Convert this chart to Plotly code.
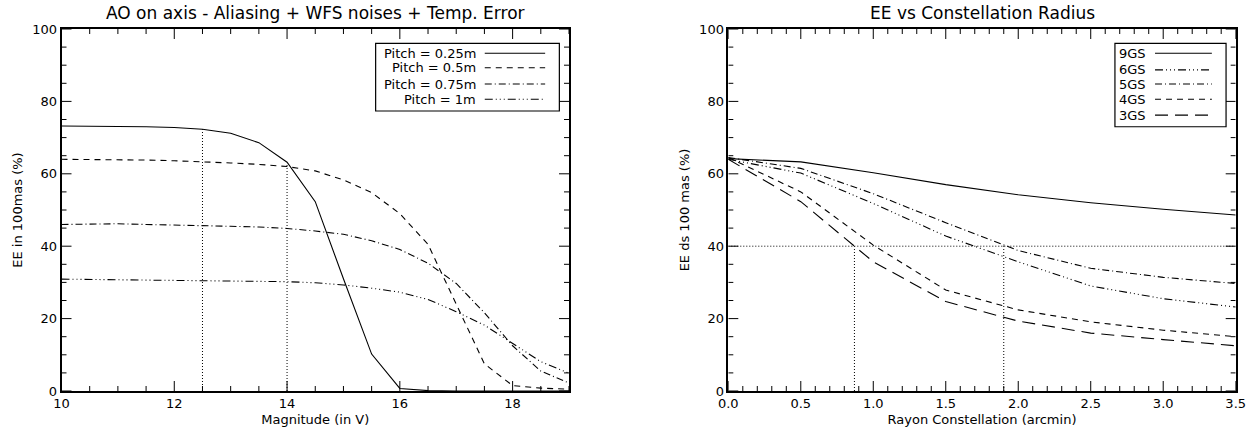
import plotly.graph_objects as go
from plotly.subplots import make_subplots

# Left panel: EE vs guide star magnitude for each pitch
MAGNITUDE = [10, 10.5, 11, 11.5, 12, 12.5, 13, 13.5, 14, 14.5,
             15, 15.5, 16, 16.5, 17, 17.5, 18, 18.5, 19]
PITCH_025 = [73.2, 73.2, 73.1, 73.0, 72.8, 72.3, 71.2, 68.6, 63.2, 52.3,
             31.0, 10.2, 0.7, 0.1, 0.0, 0.0, 0.0, 0.0, 0.0]
PITCH_05 = [64.0, 64.0, 63.9, 63.8, 63.6, 63.4, 63.0, 62.6, 62.0, 60.8,
            58.3, 54.8, 49.0, 40.5, 24.0, 7.5, 1.5, 0.8, 0.5]
PITCH_075 = [46.0, 46.1, 46.2, 46.0, 45.9, 45.7, 45.5, 45.3, 44.9, 44.2,
             43.3, 41.5, 39.1, 35.3, 29.7, 21.6, 12.5, 5.5, 2.2]
PITCH_1 = [30.9, 30.8, 30.7, 30.7, 30.7, 30.6, 30.5, 30.4, 30.2, 29.9,
           29.3, 28.4, 27.3, 25.3, 21.9, 18.2, 13.1, 8.1, 4.9]
LEFT_LABELS = ["Pitch = 0.25m", "Pitch = 0.5m", "Pitch = 0.75m", "Pitch = 1m"]
LEFT_MARK_X = [12.5, 14.0]
LEFT_MARK_Y = [72.3, 63.0]

# Right panel: EE vs constellation radius for each number of guide stars
RADIUS = [0.0, 0.5, 1.0, 1.5, 2.0, 2.5, 3.0, 3.5]
GS9 = [64.2, 63.3, 60.3, 57.0, 54.2, 52.0, 50.2, 48.6]
GS6 = [64.0, 60.2, 51.8, 42.8, 35.7, 29.0, 25.5, 23.2]
GS5 = [64.5, 61.5, 54.5, 46.5, 38.8, 33.9, 31.4, 29.7]
GS4 = [64.5, 55.0, 40.3, 27.9, 22.4, 19.1, 16.8, 15.0]
GS3 = [64.0, 52.3, 35.7, 24.7, 19.3, 16.0, 14.2, 12.5]
RIGHT_LABELS = ["9GS", "6GS", "5GS", "4GS", "3GS"]
EE_LEVEL = 40
RIGHT_MARK_X = [0.87, 1.9]

# Axis ranges and tick steps (major, minor)
X1_RANGE, X2_RANGE, Y_RANGE = [10, 19], [0, 3.5], [0, 100]
X1_STEPS, X2_STEPS, Y_STEPS = (2, 0.5), (0.5, 0.1), (20, 5)
MAJOR_LEN, MINOR_LEN = 10, 5

# IDL-like line styles
SOLID = "solid"
DASHED = "6px,5px"
DASH_DOT = "7px,3px,1px,3px"
DASH_DOT3 = "8px,3px,1px,3px,1px,3px,1px,3px"
LONG_DASH = "13px,7px"
DOTTED = "1px,2px"

FONT = "DejaVu Sans"
BLACK = "black"


def add_line(fig, x, y, dash, col, width=1.1):
    fig.add_trace(
        go.Scatter(x=x, y=y, mode="lines", showlegend=False,
                   line=dict(color=BLACK, width=width, dash=dash)),
        row=1, col=col,
    )


def add_legend(fig, xref, yref, labels, dashes, box, text_x, line_x, rows_y, align):
    """Hand-drawn legend box, IDL style"""
    fig.add_shape(type="rect", xref=xref, yref=yref,
                  x0=box[0], x1=box[1], y0=box[2], y1=box[3],
                  line=dict(color=BLACK, width=1.2), fillcolor="white")
    for label, dash, yy in zip(labels, dashes, rows_y):
        fig.add_annotation(xref=xref, yref=yref, x=text_x, y=yy, text=label,
                           showarrow=False, xanchor=align, yanchor="middle",
                           font=dict(family=FONT, size=13, color=BLACK))
        fig.add_shape(type="line", xref=xref, yref=yref,
                      x0=line_x[0], x1=line_x[1], y0=yy, y1=yy,
                      line=dict(color=BLACK, width=1.1, dash=dash))


def tick_values(rng, step):
    n = int(round((rng[1] - rng[0]) / step))
    return [round(rng[0] + i * step, 6) for i in range(n + 1)]


def add_ticks(fig, xref, yref, x_rng, y_rng, x_steps, y_steps):
    """Inside tick marks on all four sides, IDL style (length in pixels)"""
    tick_line = dict(color=BLACK, width=1)
    majors_x = set(tick_values(x_rng, x_steps[0]))
    majors_y = set(tick_values(y_rng, y_steps[0]))
    for v in tick_values(x_rng, x_steps[1]):
        length = MAJOR_LEN if v in majors_x else MINOR_LEN
        for anchor, sign in [(y_rng[0], 1), (y_rng[1], -1)]:
            fig.add_shape(type="line", xref=xref, yref=yref, x0=v, x1=v,
                          ysizemode="pixel", yanchor=anchor, y0=0, y1=sign * length,
                          line=tick_line)
    for v in tick_values(y_rng, y_steps[1]):
        length = MAJOR_LEN if v in majors_y else MINOR_LEN
        for anchor, sign in [(x_rng[0], 1), (x_rng[1], -1)]:
            fig.add_shape(type="line", xref=xref, yref=yref, y0=v, y1=v,
                          xsizemode="pixel", xanchor=anchor, x0=0, x1=sign * length,
                          line=tick_line)


def axis(**kw):
    base = dict(
        showline=True, linecolor=BLACK, linewidth=1.5, mirror=True,
        ticks="", showgrid=False, zeroline=False, automargin=False,
        tickfont=dict(family=FONT, size=13, color=BLACK),
    )
    base.update(kw)
    return base


def main():
    fig = make_subplots(rows=1, cols=2, horizontal_spacing=0.1)

    # Left panel
    for ys, dash in zip([PITCH_025, PITCH_05, PITCH_075, PITCH_1],
                        [SOLID, DASHED, DASH_DOT, DASH_DOT3]):
        add_line(fig, MAGNITUDE, ys, dash, 1)
    for mx, my in zip(LEFT_MARK_X, LEFT_MARK_Y):
        add_line(fig, [mx, mx], [0, my], DOTTED, 1, 1.0)

    # Right panel
    for ys, dash in zip([GS9, GS6, GS5, GS4, GS3],
                        [SOLID, DASH_DOT3, DASH_DOT, DASHED, LONG_DASH]):
        add_line(fig, RADIUS, ys, dash, 2)
    add_line(fig, [RADIUS[0], RADIUS[-1]], [EE_LEVEL, EE_LEVEL], DOTTED, 2, 1.0)
    for mx in RIGHT_MARK_X:
        add_line(fig, [mx, mx], [0, EE_LEVEL], DOTTED, 2, 1.0)

    title_font = dict(family=FONT, size=13, color=BLACK)
    y_dom = [40 / 431, 402 / 431]
    fig.update_layout(
        template="none",
        xaxis=axis(domain=[61.5 / 1258, 569 / 1258], range=X1_RANGE, dtick=X1_STEPS[0],
                   title=dict(text="Magnitude (in V)", standoff=5, font=title_font)),
        xaxis2=axis(domain=[728.3 / 1258, 1235.7 / 1258], range=X2_RANGE,
                    dtick=X2_STEPS[0], tickformat=".1f",
                    title=dict(text="Rayon Constellation (arcmin)", standoff=5,
                               font=title_font)),
        yaxis=axis(domain=y_dom, range=Y_RANGE, dtick=Y_STEPS[0],
                   title=dict(text="EE in 100mas (%)", standoff=7, font=title_font)),
        yaxis2=axis(domain=y_dom, range=Y_RANGE, dtick=Y_STEPS[0],
                    title=dict(text="EE ds 100 mas (%)", standoff=7, font=title_font)),
    )

    # Tick marks
    add_ticks(fig, "x", "y", X1_RANGE, Y_RANGE, X1_STEPS, Y_STEPS)
    add_ticks(fig, "x2", "y2", X2_RANGE, Y_RANGE, X2_STEPS, Y_STEPS)

    # Legends
    add_legend(fig, "x domain", "y domain", LEFT_LABELS,
               [SOLID, DASHED, DASH_DOT, DASH_DOT3],
               box=[0.619, 0.981, 0.7735, 0.9605], text_x=0.8206,
               line_x=[0.834, 0.953], rows_y=[0.933, 0.893, 0.848, 0.806],
               align="right")
    add_legend(fig, "x2 domain", "y2 domain", RIGHT_LABELS,
               [SOLID, DASH_DOT3, DASH_DOT, DASHED, LONG_DASH],
               box=[0.762, 0.981, 0.730, 0.9605], text_x=0.766,
               line_x=[0.841, 0.953], rows_y=[0.933, 0.887, 0.848, 0.806, 0.762],
               align="left")

    # Titles
    for x_c, text in [((61.5 + 569) / 2 / 1258,
                       "AO on axis - Aliasing + WFS noises + Temp. Error"),
                      ((728.3 + 1235.7) / 2 / 1258, "EE vs Constellation Radius")]:
        fig.add_annotation(xref="paper", yref="paper", x=x_c, y=1 - 13 / 431,
                           text=text, showarrow=False, xanchor="center",
                           yanchor="middle",
                           font=dict(family=FONT, size=17, color=BLACK))

    fig.update_layout(
        width=1258, height=431,
        margin=dict(l=0, r=0, t=0, b=0),
        paper_bgcolor="white", plot_bgcolor="white",
        showlegend=False, hovermode=False,
    )

    # the page has a default 8px body margin; remove it so the figure sits at 0,0
    fig.write_html("out.html", config={"displayModeBar": False},
                   post_script="document.body.style.margin='0';")


if __name__ == "__main__":
    main()
